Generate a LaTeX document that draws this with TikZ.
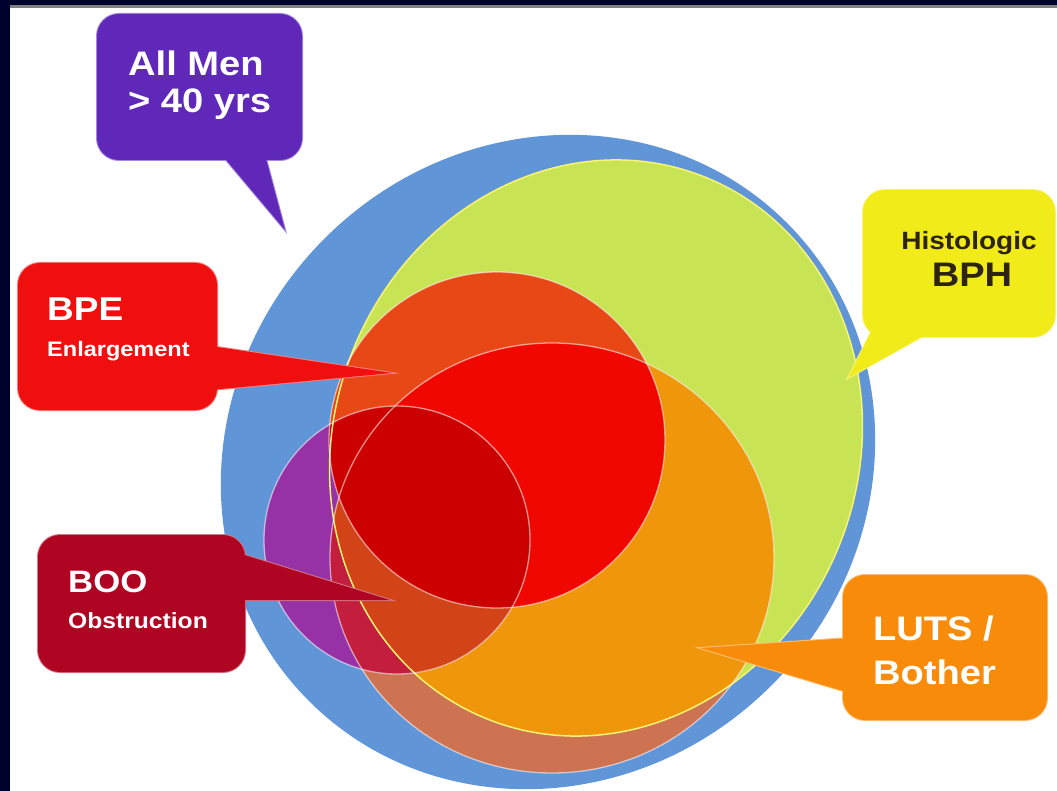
\documentclass[tikz,border=0pt]{standalone}
\usepackage{fontspec}
\setmainfont{Liberation Sans}
\newfontfamily\calloutfont[FakeStretch=1.12]{Liberation Sans}
\begin{document}
\begin{tikzpicture}[x=1pt,y=-1pt]
% palette
\definecolor{navy}{RGB}{0,0,45}
\definecolor{ringblue}{RGB}{96,150,216}
\definecolor{bphgreen}{RGB}{200,228,85}
\definecolor{lutsorange}{RGB}{240,150,10}
\definecolor{terracotta}{RGB}{205,115,82}
\definecolor{bpered}{RGB}{232,72,22}
\definecolor{brightred}{RGB}{240,8,0}
\definecolor{deepred}{RGB}{205,0,0}
\definecolor{boodark}{RGB}{210,68,24}
\definecolor{crimson}{RGB}{195,30,62}
\definecolor{boopurple}{RGB}{150,50,165}
\definecolor{menpurple}{RGB}{95,40,185}
\definecolor{histyellow}{RGB}{240,235,25}
\definecolor{bpebox}{RGB}{240,15,15}
\definecolor{boobox}{RGB}{175,5,35}
\definecolor{lutsbox}{RGB}{248,140,10}
\definecolor{histtext}{RGB}{45,35,15}
\tikzset{
  edge/.style={draw=white, draw opacity=0.55, line width=1.3pt},
  calloutline/.style={fill=#1, draw=#1!55!white, line width=2pt},
  calloutfill/.style={fill=#1},
  bigtext/.style={anchor=base west, inner sep=0pt, text=white,
    font=\calloutfont\bfseries\fontsize{#1}{#1}\selectfont},
  mentilt/.style={rotate around={45:(548,462)}},
  bphtilt/.style={rotate around={-22:(596,448)}},
}
% set shapes
\def\menset{(548,462) ellipse[x radius=338pt, y radius=316pt]}
\def\bphset{(596,448) ellipse[x radius=262pt, y radius=292pt]}
\def\lutsset{(552,558) ellipse[x radius=222pt, y radius=215pt]}
\def\bpeset{(497,440) circle[radius=168pt]}
\def\booset{(397,540) ellipse[x radius=133pt, y radius=134pt]}

\useasboundingbox (0,0) rectangle (1057,791);
% frame
\fill[white] (0,0) rectangle (1057,791);
\fill[navy] (0,0) rectangle (1057,5.5);
\fill[black!50] (0,5.5) rectangle (1057,8);
\fill[navy] (0,0) rectangle (10,791);

% all men > 40
\fill[ringblue, mentilt] \menset;
% histologic BPH
\fill[bphgreen, bphtilt] \bphset;
% LUTS: terracotta outside BPH, orange inside
\fill[terracotta] \lutsset;
\begin{scope}
  \clip[bphtilt] \bphset;
  \fill[lutsorange] \lutsset;
\end{scope}
% BPE: orange-red alone, bright red together with LUTS
\fill[bpered] \bpeset;
\begin{scope}
  \clip \lutsset;
  \fill[brightred] \bpeset;
\end{scope}
% BOO and its overlaps
\fill[boopurple] \booset;
\begin{scope}
  \clip \booset;
  \fill[crimson] \lutsset;
  \begin{scope}
    \clip[bphtilt] \bphset;
    \fill[boodark] \lutsset;
  \end{scope}
  \fill[deepred] \bpeset;
\end{scope}
% outlines
\path[draw=histyellow!60!white, line width=1.5pt, bphtilt] \bphset;
\path[edge] \lutsset;
\path[edge] \bpeset;
\path[edge] \booset;

% callout tips
\coordinate (menTip) at (285,230);
\coordinate (histTip) at (848,378);
\coordinate (bpeTip) at (392,373);
\coordinate (booTip) at (390,600);
\coordinate (lutsTip) at (700,648);

% All Men > 40 yrs
\path[calloutline=menpurple, rounded corners=22pt] (97,14) rectangle (302,160);
\path[calloutline=menpurple] (222,155) -- (menTip) -- (265,155) -- cycle;
\path[calloutfill=menpurple, rounded corners=22pt] (97,14) rectangle (302,160);
\path[calloutfill=menpurple] (222,155) -- (menTip) -- (265,155) -- cycle;
\node[bigtext=34] (men1) at (128,76) {All Men};
\node[bigtext=34] (men2) at (128,113) {> 40 yrs};

% Histologic BPH
\path[calloutline=histyellow, rounded corners=22pt] (863,190) rectangle (1055,337);
\path[calloutline=histyellow] (872,330) -- (histTip) -- (925,335) -- cycle;
\path[calloutfill=histyellow, rounded corners=22pt] (863,190) rectangle (1055,337);
\path[calloutfill=histyellow] (872,330) -- (histTip) -- (925,335) -- cycle;
\node[bigtext=25, anchor=base, text=histtext] (hist1) at (969,250) {Histologic};
\node[bigtext=34, anchor=base, text=histtext] (hist2) at (972,287) {BPH};

% BPE Enlargement
\path[calloutline=bpebox, rounded corners=22pt] (18,263) rectangle (217,410);
\path[calloutline=bpebox] (210,346) -- (bpeTip) -- (210,390) -- cycle;
\path[calloutfill=bpebox, rounded corners=22pt] (18,263) rectangle (217,410);
\path[calloutfill=bpebox] (210,346) -- (bpeTip) -- (210,390) -- cycle;
\node[bigtext=33] (bpe1) at (47,321) {BPE};
\node[bigtext=21] (bpe2) at (47,356) {Enlargement};

% BOO Obstruction
\path[calloutline=boobox, rounded corners=22pt] (38,535) rectangle (245,672);
\path[calloutline=boobox] (238,553) -- (booTip) -- (238,600) -- cycle;
\path[calloutfill=boobox, rounded corners=22pt] (38,535) rectangle (245,672);
\path[calloutfill=boobox] (238,553) -- (booTip) -- (238,600) -- cycle;
\node[bigtext=31] (boo1) at (68,592) {BOO};
\node[bigtext=22] (boo2) at (68,628) {Obstruction};

% LUTS / Bother
\path[calloutline=lutsbox, rounded corners=22pt] (843,575) rectangle (1047,720);
\path[calloutline=lutsbox] (850,638) -- (lutsTip) -- (850,693) -- cycle;
\path[calloutfill=lutsbox, rounded corners=22pt] (843,575) rectangle (1047,720);
\path[calloutfill=lutsbox] (850,638) -- (lutsTip) -- (850,693) -- cycle;
\node[bigtext=34] (luts1) at (873,640) {LUTS /};
\node[bigtext=34] (luts2) at (873,684) {Bother};
\end{tikzpicture}
\end{document}
